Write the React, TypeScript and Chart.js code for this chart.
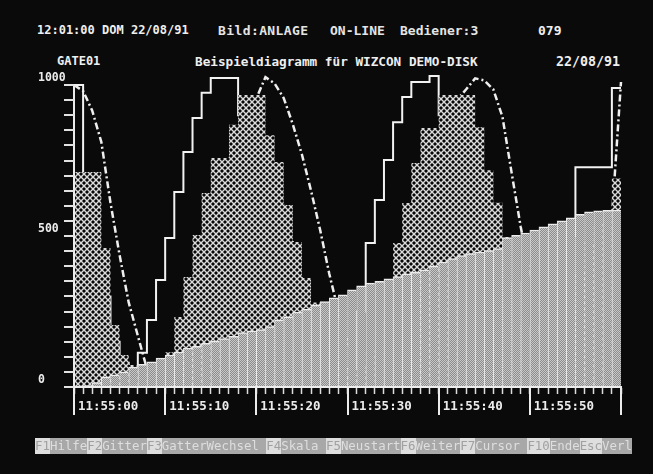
import React, { useEffect, useRef } from 'react';
import { Chart, registerables } from 'chart.js';

Chart.register(...registerables);

// time axis: seconds after 11:55:00
const seconds = [
  0, 1, 2, 3, 4, 5, 6, 7, 8, 9, 10, 11, 12, 13, 14, 15, 16, 17, 18, 19, 20,
  21, 22, 23, 24, 25, 26, 27, 28, 29, 30, 31, 32, 33, 34, 35, 36, 37, 38, 39, 40,
  41, 42, 43, 44, 45, 46, 47, 48, 49, 50, 51, 52, 53, 54, 55, 56, 57, 58, 59, 60,
];
const timeTickLabels = ['11:55:00', '11:55:10', '11:55:20', '11:55:30', '11:55:40', '11:55:50'];
const majorSeconds = [0, 10, 20, 30, 40, 50, 60];
const yTickLabels = [0, 500, 1000];

// light grey bars (one per second, slowly rising)
const barValues = [
  0, 5, 15, 33, 40, 50, 66, 75, 83, 96, 106, 116, 129, 135, 145, 152, 160, 168, 180, 186,
  190, 200, 222, 232, 248, 258, 271, 283, 295, 305, 322, 335, 344, 350, 358, 366, 375, 380, 388, 400,
  414, 425, 435, 442, 447, 452, 458, 495, 502, 510, 520, 530, 540, 550, 560, 572, 580, 583, 585, 586,
];

// cross-hatched stepped area
const hatchValues = [
  712, 712, 712, 460, 205, 106, 73, 50, 80, 95, 115, 232, 364, 503, 642, 758, 758, 868, 967, 967,
  967, 834, 745, 603, 480, 361, 280, 200, 120, 60, 40, 60, 120, 220, 330, 477, 609, 742, 858, 858,
  967, 967, 967, 967, 860, 718, 610, 497, 350, 200, 80, 30, 60, 150, 260, 380, 480, 540, 570, 690,
  690,
];

// white solid stepped line
const stairValues = [
  1000, 600, 450, 300, 150, 80, 50, 113, 222, 354, 493, 646, 778, 891, 974, 1023, 1023, 1023, 900, 850,
  780, 700, 600, 480, 360, 250, 180, 120, 80, 60, 60, 250, 477, 619, 752, 877, 960, 1010, 1010, 1030,
  900, 820, 740, 650, 550, 420, 330, 250, 200, 180, 180, 200, 300, 400, 500, 728, 728, 728, 728, 990,
  990,
];

// white dash-dot line
const dashValues = [
  1000, 980, 915, 811, 610, 437, 280, 170, 60, 50, 55, 105, 220, 350, 490, 630, 740, 748, 855, 930,
  955, 1026, 1005, 957, 870, 770, 650, 520, 375, 250, 150, 80, 60, 100, 200, 340, 465, 598, 730, 820,
  848, 900, 950, 985, 1022, 1015, 985, 894, 710, 530, 380, 250, 150, 100, 120, 200, 300, 400, 480, 560,
  1010,
];

const fkeys: [string, string][] = [
  ['F1', 'Hilfe'],
  ['F2', 'Gitter'],
  ['F3', 'GatterWechsel '],
  ['F4', 'Skala '],
  ['F5', 'Neustart'],
  ['F6', 'Weiter'],
  ['F7', 'Cursor '],
  ['F10', 'Ende'],
  ['Esc', 'Verl'],
];

function makeHatch(): any {
  const c = document.createElement('canvas');
  c.width = 6;
  c.height = 6;
  const g = c.getContext('2d')!;
  g.fillStyle = '#070707';
  g.fillRect(0, 0, 6, 6);
  g.strokeStyle = '#dadada';
  g.lineWidth = 1.4;
  for (const k of [-6, 0, 6]) {
    g.beginPath();
    g.moveTo(-1, -1 + k);
    g.lineTo(7, 7 + k);
    g.stroke();
    g.beginPath();
    g.moveTo(-1, 7 + k);
    g.lineTo(7, -1 + k);
    g.stroke();
  }
  return g.createPattern(c, 'repeat');
}

function makeGrey(): any {
  const c = document.createElement('canvas');
  c.width = 2;
  c.height = 2;
  const g = c.getContext('2d')!;
  g.fillStyle = '#8c8c8c';
  g.fillRect(0, 0, 2, 2);
  g.fillStyle = '#c8c8c8';
  g.fillRect(0, 0, 1, 1);
  g.fillRect(1, 1, 1, 1);
  return g.createPattern(c, 'repeat');
}

const FONT = '"DejaVu Sans Mono", "Liberation Mono", monospace';

// long major ticks on the time axis and short ticks on the value axis
const tickPlugin = {
  id: 'crtTicks',
  afterDraw(chart: any) {
    const sx = chart.scales.x;
    const sy = chart.scales.y;
    const ctx = chart.ctx;
    const { bottom, left } = chart.chartArea;
    ctx.save();
    ctx.setLineDash([]);
    ctx.fillStyle = '#ececec';
    for (const v of majorSeconds) {
      const px = Math.round(sx.getPixelForValue(v));
      ctx.fillRect(px - 1, bottom, 2, 28);
    }
    ctx.fillStyle = '#e2e2e2';
    for (const t of sy.ticks) {
      const py = Math.round(sy.getPixelForValue(t.value));
      ctx.fillRect(left - 10, py - 1, 10, 2);
    }
    ctx.restore();
  },
};

function TrendChart() {
  const ref = useRef<HTMLCanvasElement | null>(null);
  useEffect(() => {
    if (!ref.current) return;
    const hatch = makeHatch();
    const grey = makeGrey();
    const chart = new Chart(ref.current, {
      type: 'line',
      data: {
        datasets: [
          {
            type: 'bar',
            label: 'Balken',
            data: barValues.map((v, i) => ({ x: seconds[i] + 0.5, y: v })),
            backgroundColor: grey,
            borderColor: '#ececec',
            borderWidth: { top: 1.5, left: 1, right: 0, bottom: 0 },
            borderSkipped: 'start',
            barPercentage: 1,
            categoryPercentage: 1,
            grouped: false,
            order: 0,
          } as any,
          {
            type: 'line',
            label: 'Gatter',
            data: hatchValues.map((v, i) => ({ x: seconds[i], y: v })),
            stepped: 'before',
            fill: 'origin',
            backgroundColor: hatch,
            borderColor: 'transparent',
            borderWidth: 0,
            pointRadius: 0,
            order: 1,
          } as any,
          {
            type: 'line',
            label: 'Strichpunkt',
            data: dashValues.map((v, i) => ({ x: seconds[i], y: v })),
            borderColor: '#efefef',
            borderWidth: 2.5,
            borderDash: [7, 3, 2, 3],
            pointRadius: 0,
            fill: false,
            tension: 0,
            clip: 15,
            order: 2,
          } as any,
          {
            type: 'line',
            label: 'Treppe',
            data: stairValues.map((v, i) => ({ x: seconds[i], y: v })),
            stepped: 'before',
            borderColor: '#f2f2f2',
            borderWidth: 2,
            pointRadius: 0,
            fill: false,
            clip: 15,
            order: 3,
          } as any,
        ],
      },
      options: {
        animation: false,
        responsive: false,
        devicePixelRatio: 1,
        layout: { padding: { left: 38, right: 32, top: 85, bottom: 47 } },
        plugins: {
          legend: { display: false },
          tooltip: { enabled: false },
          title: { display: false },
        },
        scales: {
          x: {
            type: 'linear',
            min: 0,
            max: 60,
            offset: false,
            grid: {
              display: true,
              drawOnChartArea: false,
              drawTicks: true,
              tickLength: 7,
              tickColor: '#dcdcdc',
              tickWidth: 1.5,
              offset: false,
            },
            border: { display: true, color: '#ececec', width: 2, z: 2 },
            ticks: {
              stepSize: 1,
              maxTicksLimit: 100,
              autoSkip: false,
              maxRotation: 0,
              minRotation: 0,
              align: 'start',
              labelOffset: 4,
              padding: 5,
              color: '#ececec',
              font: { family: FONT, size: 12.5, weight: 'bold' },
              callback: (v: any) => {
                const n = Number(v);
                if (n % 10 === 0 && timeTickLabels[n / 10] !== undefined) return timeTickLabels[n / 10];
                return '';
              },
            },
            afterFit: (s: any) => {
              s.height = 40;
            },
          } as any,
          y: {
            type: 'linear',
            min: 0,
            max: 1000,
            grid: {
              display: true,
              drawOnChartArea: false,
              drawTicks: false,
            },
            border: { display: true, color: '#ececec', width: 2, z: 2 },
            ticks: {
              stepSize: 50,
              maxTicksLimit: 50,
              autoSkip: false,
              crossAlign: 'far',
              labelOffset: -7,
              padding: 11,
              color: '#ececec',
              font: { family: FONT, size: 11.5, weight: 'bold' },
              callback: (v: any) => (yTickLabels.includes(Number(v)) ? String(v) : ''),
            },
            afterFit: (s: any) => {
              s.width = 36;
            },
          } as any,
        },
      },
      plugins: [tickPlugin],
    });
    return () => chart.destroy();
  }, []);
  return (
    <canvas
      ref={ref}
      width={653}
      height={474}
      style={{ position: 'absolute', left: 0, top: 0, width: 653, height: 474 }}
    />
  );
}

const txt = (left: number, top: number, size: number, extra: any = {}) => ({
  position: 'absolute' as const,
  left,
  top,
  fontSize: size,
  lineHeight: '15px',
  fontFamily: FONT,
  fontWeight: 'bold' as const,
  color: '#efefef',
  whiteSpace: 'pre' as const,
  ...extra,
});

export default function App() {
  return (
    <div
      style={{
        position: 'fixed',
        left: 0,
        top: 0,
        width: 653,
        height: 474,
        background: '#0a0a0a',
        overflow: 'hidden',
      }}
    >
      <div style={txt(37, 23, 12)}>12:01:00 DOM 22/08/91</div>
      <div style={txt(218, 23, 13, { letterSpacing: 0.4, color: '#e4e4e4' })}>Bild:ANLAGE</div>
      <div style={txt(330, 23, 13, { color: '#e4e4e4' })}>ON-LINE</div>
      <div style={txt(400, 23, 13, { color: '#e4e4e4' })}>Bediener:3</div>
      <div style={txt(538, 23, 13)}>079</div>

      <div style={txt(57, 54, 12)}>GATE01</div>
      <div style={txt(195, 54, 12.7)}>Beispieldiagramm für WIZCON DEMO-DISK</div>
      <div style={txt(556, 54, 13.3)}>22/08/91</div>

      <TrendChart />

      <div
        style={{
          position: 'absolute',
          left: 35,
          top: 438,
          height: 16,
          display: 'flex',
          fontFamily: FONT,
          fontSize: 12.4,
          lineHeight: '16px',
          whiteSpace: 'pre',
        }}
      >
        {fkeys.map(([k, label]) => (
          <React.Fragment key={k}>
            <span style={{ background: '#dedede', color: '#a0a0a0' }}>{k}</span>
            <span style={{ background: '#a8a8a8', color: '#dedede' }}>{label}</span>
          </React.Fragment>
        ))}
      </div>
    </div>
  );
}
